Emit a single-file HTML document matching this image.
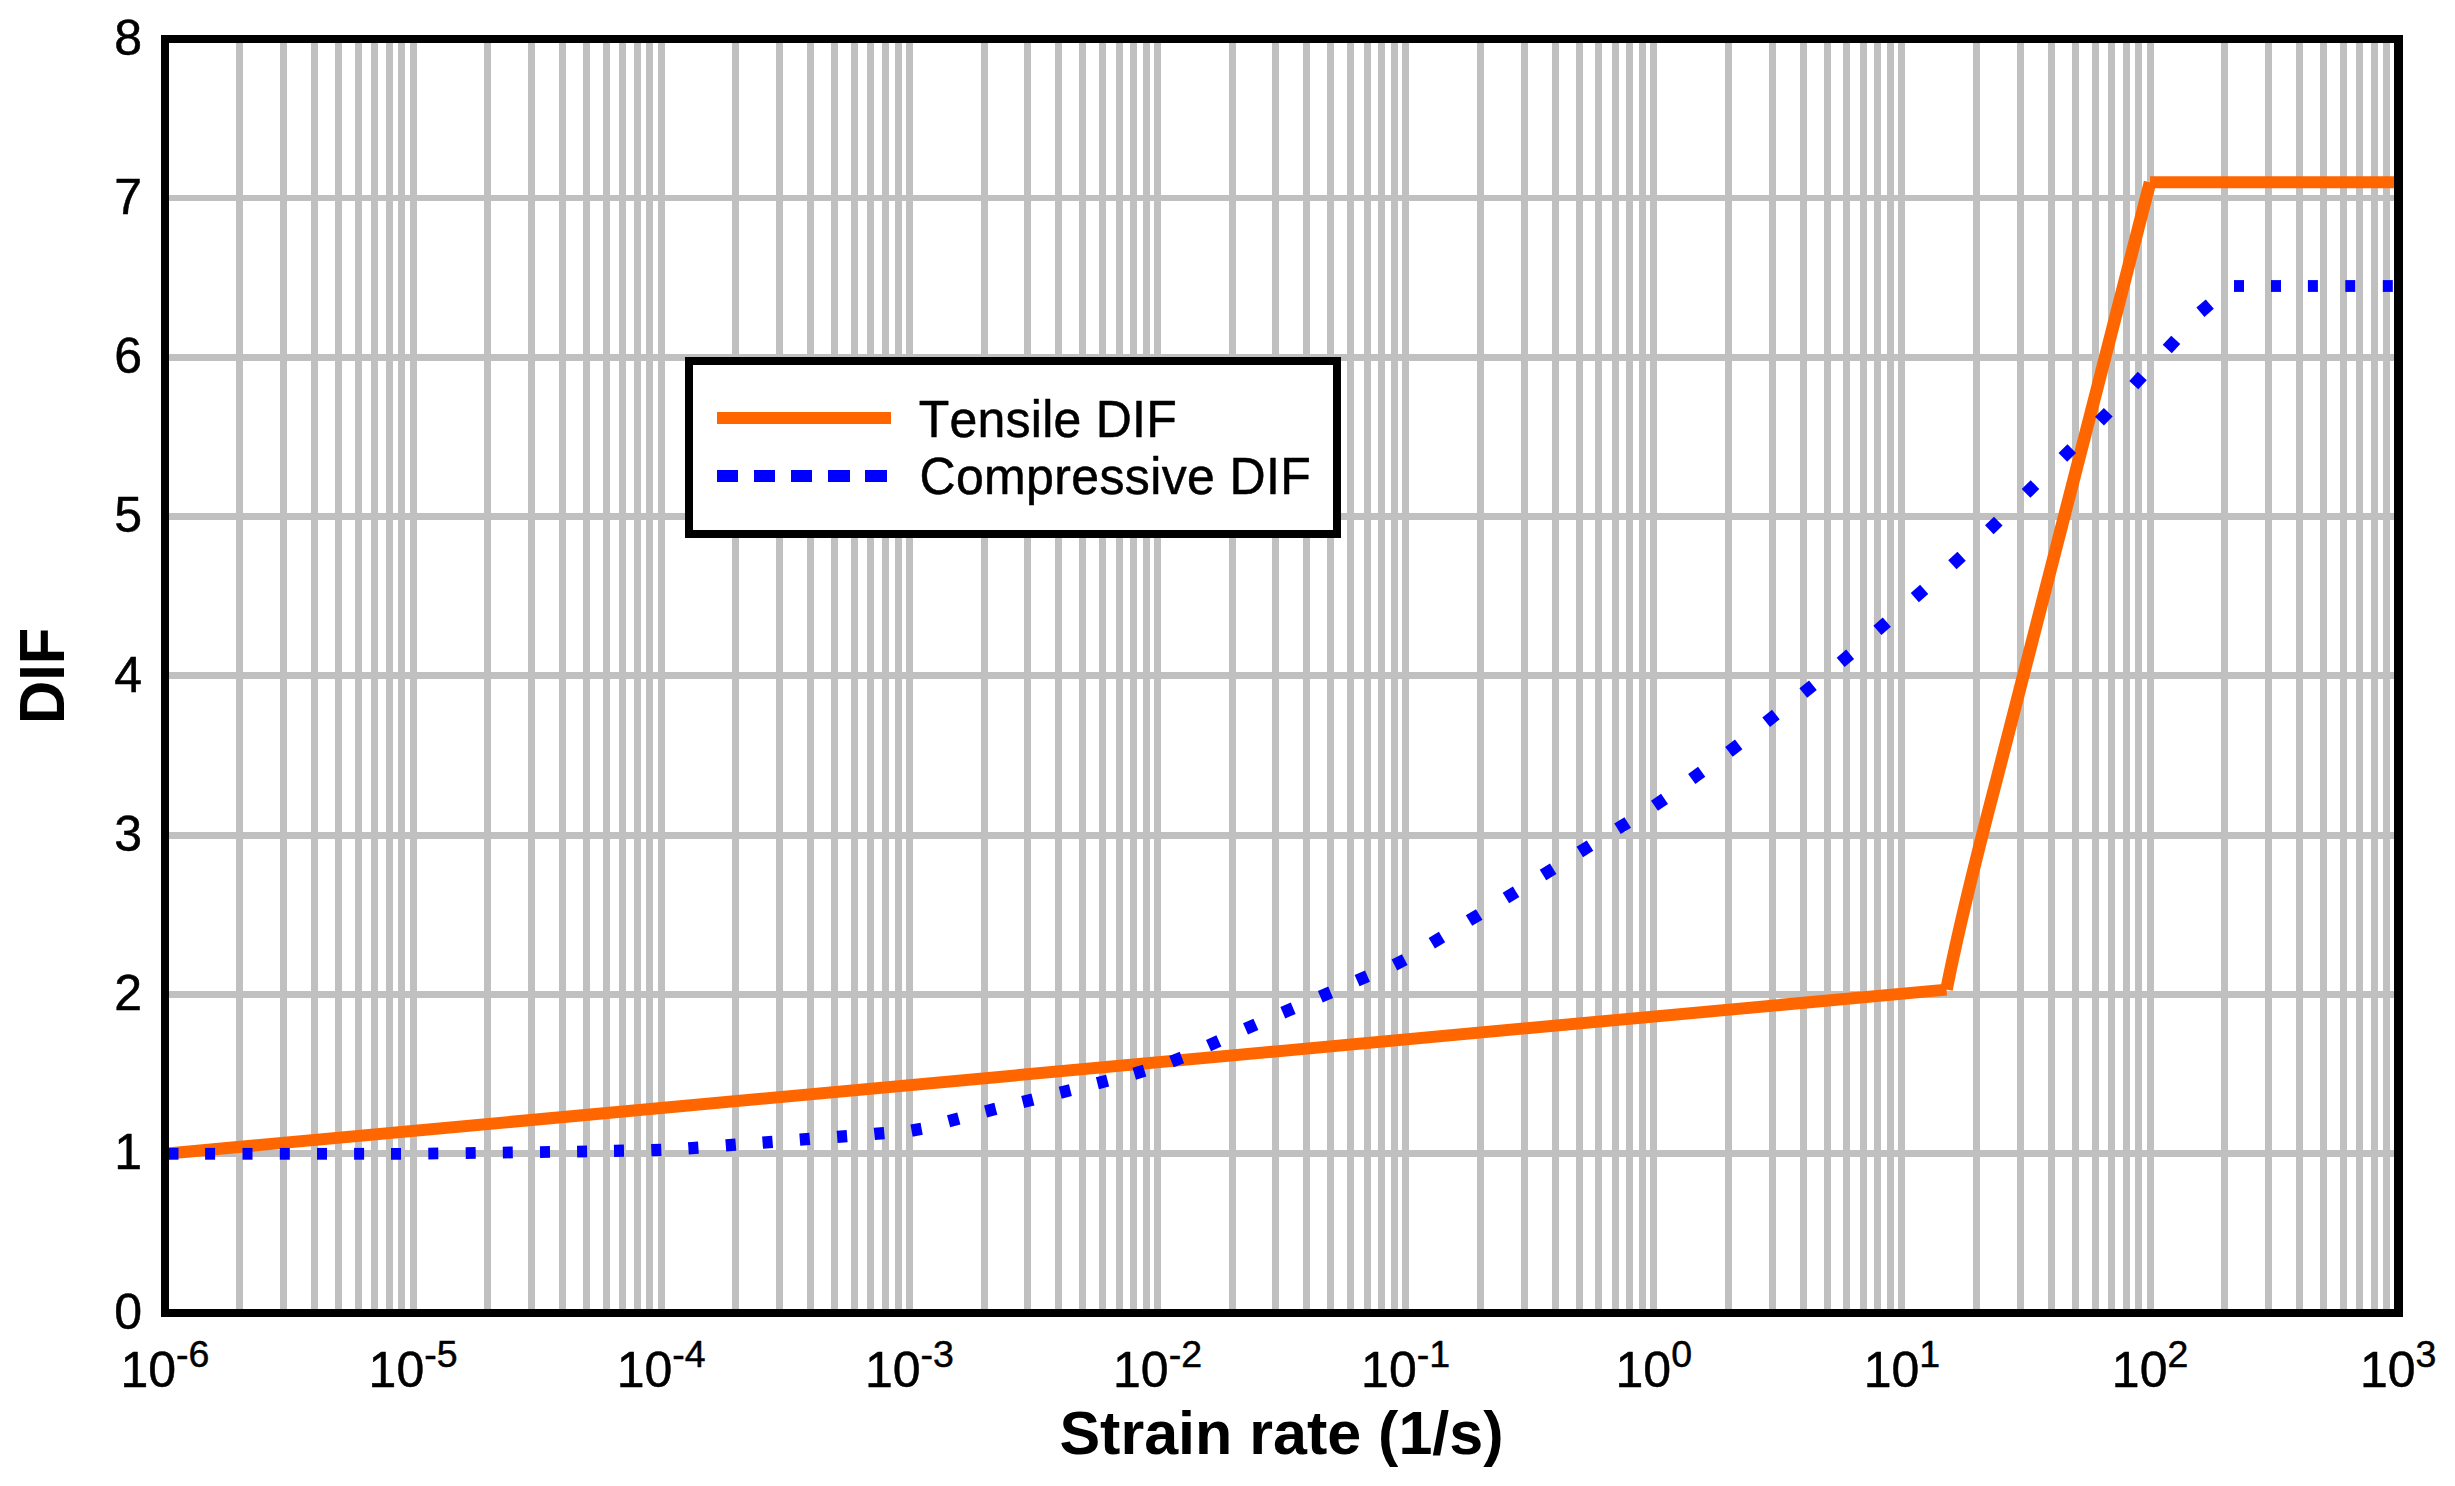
<!DOCTYPE html>
<html lang="en"><head><meta charset="utf-8"><title>DIF vs strain rate</title>
<style>html,body{margin:0;padding:0;background:#fff;}svg{display:block;}text{font-family:"Liberation Sans",Arial,Helvetica,sans-serif;fill:#000;}.r{stroke:#000;stroke-width:0.5px;stroke-linejoin:round;}</style></head><body>
<svg width="2455" height="1486" viewBox="0 0 2455 1486">
<rect x="0" y="0" width="2455" height="1486" fill="#fff"/>
<g fill="#c0c0c0" shape-rendering="crispEdges">
<rect x="236" y="43" width="7" height="1266"/>
<rect x="280" y="43" width="7" height="1266"/>
<rect x="311" y="43" width="7" height="1266"/>
<rect x="335" y="43" width="7" height="1266"/>
<rect x="355" y="43" width="7" height="1266"/>
<rect x="371" y="43" width="7" height="1266"/>
<rect x="386" y="43" width="7" height="1266"/>
<rect x="398" y="43" width="7" height="1266"/>
<rect x="410" y="43" width="7" height="1266"/>
<rect x="484" y="43" width="7" height="1266"/>
<rect x="528" y="43" width="7" height="1266"/>
<rect x="559" y="43" width="7" height="1266"/>
<rect x="583" y="43" width="7" height="1266"/>
<rect x="603" y="43" width="7" height="1266"/>
<rect x="619" y="43" width="7" height="1266"/>
<rect x="634" y="43" width="7" height="1266"/>
<rect x="646" y="43" width="7" height="1266"/>
<rect x="658" y="43" width="7" height="1266"/>
<rect x="732" y="43" width="7" height="1266"/>
<rect x="776" y="43" width="7" height="1266"/>
<rect x="807" y="43" width="7" height="1266"/>
<rect x="831" y="43" width="7" height="1266"/>
<rect x="851" y="43" width="7" height="1266"/>
<rect x="867" y="43" width="7" height="1266"/>
<rect x="882" y="43" width="7" height="1266"/>
<rect x="895" y="43" width="7" height="1266"/>
<rect x="906" y="43" width="7" height="1266"/>
<rect x="981" y="43" width="7" height="1266"/>
<rect x="1024" y="43" width="7" height="1266"/>
<rect x="1055" y="43" width="7" height="1266"/>
<rect x="1079" y="43" width="7" height="1266"/>
<rect x="1099" y="43" width="7" height="1266"/>
<rect x="1116" y="43" width="7" height="1266"/>
<rect x="1130" y="43" width="7" height="1266"/>
<rect x="1143" y="43" width="7" height="1266"/>
<rect x="1154" y="43" width="7" height="1266"/>
<rect x="1229" y="43" width="7" height="1266"/>
<rect x="1272" y="43" width="7" height="1266"/>
<rect x="1303" y="43" width="7" height="1266"/>
<rect x="1327" y="43" width="7" height="1266"/>
<rect x="1347" y="43" width="7" height="1266"/>
<rect x="1364" y="43" width="7" height="1266"/>
<rect x="1378" y="43" width="7" height="1266"/>
<rect x="1391" y="43" width="7" height="1266"/>
<rect x="1402" y="43" width="7" height="1266"/>
<rect x="1477" y="43" width="7" height="1266"/>
<rect x="1521" y="43" width="7" height="1266"/>
<rect x="1552" y="43" width="7" height="1266"/>
<rect x="1576" y="43" width="7" height="1266"/>
<rect x="1595" y="43" width="7" height="1266"/>
<rect x="1612" y="43" width="7" height="1266"/>
<rect x="1626" y="43" width="7" height="1266"/>
<rect x="1639" y="43" width="7" height="1266"/>
<rect x="1650" y="43" width="7" height="1266"/>
<rect x="1725" y="43" width="7" height="1266"/>
<rect x="1769" y="43" width="7" height="1266"/>
<rect x="1800" y="43" width="7" height="1266"/>
<rect x="1824" y="43" width="7" height="1266"/>
<rect x="1843" y="43" width="7" height="1266"/>
<rect x="1860" y="43" width="7" height="1266"/>
<rect x="1874" y="43" width="7" height="1266"/>
<rect x="1887" y="43" width="7" height="1266"/>
<rect x="1898" y="43" width="7" height="1266"/>
<rect x="1973" y="43" width="7" height="1266"/>
<rect x="2017" y="43" width="7" height="1266"/>
<rect x="2048" y="43" width="7" height="1266"/>
<rect x="2072" y="43" width="7" height="1266"/>
<rect x="2092" y="43" width="7" height="1266"/>
<rect x="2108" y="43" width="7" height="1266"/>
<rect x="2123" y="43" width="7" height="1266"/>
<rect x="2135" y="43" width="7" height="1266"/>
<rect x="2147" y="43" width="7" height="1266"/>
<rect x="2221" y="43" width="7" height="1266"/>
<rect x="2265" y="43" width="7" height="1266"/>
<rect x="2296" y="43" width="7" height="1266"/>
<rect x="2320" y="43" width="7" height="1266"/>
<rect x="2340" y="43" width="7" height="1266"/>
<rect x="2356" y="43" width="7" height="1266"/>
<rect x="2371" y="43" width="7" height="1266"/>
<rect x="2383" y="43" width="7" height="1266"/>
</g>
<g fill="#c0c0c0" shape-rendering="crispEdges">
<rect x="169" y="195" width="2225" height="6"/>
<rect x="169" y="354" width="2225" height="7"/>
<rect x="169" y="513" width="2225" height="7"/>
<rect x="169" y="672" width="2225" height="7"/>
<rect x="169" y="832" width="2225" height="7"/>
<rect x="169" y="991" width="2225" height="7"/>
<rect x="169" y="1150" width="2225" height="7"/>
</g>
<g stroke="#ff6600" stroke-width="12" fill="none" stroke-linecap="butt">
<line x1="165.0" y1="1153.75" x2="1946.5" y2="989.6"/>
<path stroke-width="12.6" stroke-linejoin="bevel" d="M1946.5,989.6 C1960.15,919.6 1978.16,850 1996.5,780 L2150.07,182.33"/>
<line x1="2150.07" y1="182.33" x2="2398.0" y2="182.33"/>
</g>
<g fill="#0000ff">
<rect x="-5.00" y="-5.90" width="10.00" height="11.80" transform="translate(173.5 1153.8) rotate(0.00)"/>
<rect x="-5.00" y="-5.90" width="10.00" height="11.80" transform="translate(210.1 1153.8) rotate(0.00)"/>
<rect x="-5.00" y="-5.90" width="10.00" height="11.80" transform="translate(247.5 1153.8) rotate(0.00)"/>
<rect x="-5.00" y="-5.90" width="10.00" height="11.80" transform="translate(284.8 1153.8) rotate(0.00)"/>
<rect x="-5.00" y="-5.90" width="10.00" height="11.80" transform="translate(322.0 1153.8) rotate(0.00)"/>
<rect x="-5.00" y="-5.90" width="10.00" height="11.80" transform="translate(359.1 1153.8) rotate(0.00)"/>
<rect x="-5.00" y="-5.90" width="10.00" height="11.80" transform="translate(396.0 1153.8) rotate(-0.23)"/>
<rect x="-5.00" y="-5.90" width="10.00" height="11.80" transform="translate(433.3 1153.5) rotate(-0.61)"/>
<rect x="-5.00" y="-5.90" width="10.00" height="11.80" transform="translate(470.7 1153.0) rotate(-0.77)"/>
<rect x="-5.00" y="-5.90" width="10.00" height="11.80" transform="translate(507.8 1152.5) rotate(-0.77)"/>
<rect x="-5.00" y="-5.90" width="10.00" height="11.80" transform="translate(545.0 1152.0) rotate(-0.77)"/>
<rect x="-5.00" y="-5.90" width="10.00" height="11.80" transform="translate(582.1 1151.5) rotate(-0.93)"/>
<rect x="-5.00" y="-6.15" width="10.00" height="12.30" transform="translate(619.0 1150.8) rotate(-1.16)"/>
<rect x="-5.01" y="-6.15" width="10.01" height="12.30" transform="translate(656.3 1150.0) rotate(-2.16)"/>
<rect x="-5.02" y="-6.15" width="10.04" height="12.30" transform="translate(693.4 1148.0) rotate(-3.84)"/>
<rect x="-5.03" y="-6.15" width="10.06" height="12.30" transform="translate(730.8 1145.0) rotate(-4.47)"/>
<rect x="-5.03" y="-6.15" width="10.06" height="12.30" transform="translate(767.6 1142.2) rotate(-4.48)"/>
<rect x="-5.03" y="-6.15" width="10.06" height="12.30" transform="translate(804.8 1139.2) rotate(-4.45)"/>
<rect x="-5.03" y="-6.15" width="10.06" height="12.30" transform="translate(842.1 1136.4) rotate(-4.38)"/>
<rect x="-5.04" y="-6.15" width="10.08" height="12.30" transform="translate(879.3 1133.5) rotate(-5.14)"/>
<rect x="-5.16" y="-6.15" width="10.31" height="12.30" transform="translate(916.6 1129.7) rotate(-10.36)"/>
<rect x="-5.31" y="-6.15" width="10.61" height="12.30" transform="translate(953.7 1119.9) rotate(-14.82)"/>
<rect x="-5.29" y="-6.15" width="10.59" height="12.30" transform="translate(990.7 1110.1) rotate(-14.53)"/>
<rect x="-5.28" y="-6.15" width="10.56" height="12.30" transform="translate(1027.8 1100.7) rotate(-14.07)"/>
<rect x="-5.28" y="-6.15" width="10.55" height="12.30" transform="translate(1065.3 1091.4) rotate(-14.05)"/>
<rect x="-5.29" y="-6.15" width="10.59" height="12.30" transform="translate(1102.5 1082.0) rotate(-14.53)"/>
<rect x="-5.38" y="-6.15" width="10.77" height="12.30" transform="translate(1139.4 1072.2) rotate(-16.80)"/>
<rect x="-5.57" y="-6.15" width="11.14" height="12.30" transform="translate(1176.7 1059.6) rotate(-21.25)"/>
<rect x="-5.69" y="-6.15" width="11.38" height="12.30" transform="translate(1213.7 1043.3) rotate(-24.03)"/>
<rect x="-5.68" y="-6.15" width="11.36" height="12.30" transform="translate(1250.7 1026.6) rotate(-23.82)"/>
<rect x="-5.66" y="-6.15" width="11.31" height="12.30" transform="translate(1288.0 1010.5) rotate(-23.23)"/>
<rect x="-5.66" y="-6.15" width="11.33" height="12.30" transform="translate(1325.5 994.5) rotate(-23.37)"/>
<rect x="-5.67" y="-6.15" width="11.34" height="12.30" transform="translate(1362.3 978.4) rotate(-23.49)"/>
<rect x="-5.83" y="-6.15" width="11.65" height="12.30" transform="translate(1399.6 962.3) rotate(-27.18)"/>
<rect x="-5.98" y="-6.15" width="11.95" height="12.30" transform="translate(1436.9 940.1) rotate(-31.02)"/>
<rect x="-5.99" y="-6.15" width="11.98" height="12.30" transform="translate(1474.1 917.5) rotate(-31.38)"/>
<rect x="-6.00" y="-6.15" width="11.99" height="12.30" transform="translate(1511.0 894.9) rotate(-31.64)"/>
<rect x="-6.01" y="-6.15" width="12.02" height="12.30" transform="translate(1548.1 871.9) rotate(-31.96)"/>
<rect x="-6.00" y="-6.15" width="12.01" height="12.30" transform="translate(1584.9 848.8) rotate(-31.86)"/>
<rect x="-6.01" y="-6.15" width="12.02" height="12.30" transform="translate(1622.6 825.6) rotate(-31.94)"/>
<rect x="-6.08" y="-6.15" width="12.16" height="12.30" transform="translate(1659.5 802.3) rotate(-34.17)"/>
<rect x="-6.13" y="-6.15" width="12.26" height="12.30" transform="translate(1696.7 775.3) rotate(-36.06)"/>
<rect x="-6.17" y="-6.15" width="12.33" height="12.30" transform="translate(1733.8 748.2) rotate(-37.45)"/>
<rect x="-6.19" y="-6.15" width="12.37" height="12.30" transform="translate(1771.0 718.4) rotate(-38.45)"/>
<rect x="-6.19" y="-6.15" width="12.39" height="12.30" transform="translate(1808.1 689.2) rotate(-38.93)"/>
<rect x="-6.22" y="-6.15" width="12.44" height="12.30" transform="translate(1845.4 658.3) rotate(-40.36)"/>
<rect x="-6.23" y="-6.15" width="12.46" height="12.30" transform="translate(1882.1 626.3) rotate(-41.21)"/>
<rect x="-6.23" y="-6.15" width="12.46" height="12.30" transform="translate(1919.5 593.4) rotate(-41.30)"/>
<rect x="-6.24" y="-6.15" width="12.48" height="12.30" transform="translate(1957.0 560.5) rotate(-42.47)"/>
<rect x="-6.25" y="-6.15" width="12.50" height="12.30" transform="translate(1993.8 525.4) rotate(-44.21)"/>
<rect x="-6.25" y="-6.15" width="12.50" height="12.30" transform="translate(2030.5 489.0) rotate(-44.61)"/>
<rect x="-6.25" y="-6.15" width="12.50" height="12.30" transform="translate(2067.3 452.9) rotate(-44.57)"/>
<rect x="-6.25" y="-6.15" width="12.50" height="12.30" transform="translate(2103.9 416.7) rotate(-45.64)"/>
<rect x="-6.24" y="-6.15" width="12.49" height="12.30" transform="translate(2138.0 380.6) rotate(-46.92)"/>
<rect x="-6.24" y="-6.15" width="12.49" height="12.30" transform="translate(2171.5 344.4) rotate(-47.18)"/>
<rect x="-6.22" y="-6.15" width="12.45" height="12.30" transform="translate(2205.1 308.2) rotate(-40.87)"/>
<rect x="-5.00" y="-5.90" width="10.00" height="11.80" transform="translate(2239.0 286.0) rotate(0.00)"/>
<rect x="-5.00" y="-5.90" width="10.00" height="11.80" transform="translate(2276.0 286.0) rotate(0.00)"/>
<rect x="-5.00" y="-5.90" width="10.00" height="11.80" transform="translate(2312.9 286.0) rotate(0.00)"/>
<rect x="-5.00" y="-5.90" width="10.00" height="11.80" transform="translate(2350.3 286.0) rotate(0.00)"/>
<rect x="-5.00" y="-5.90" width="10.00" height="11.80" transform="translate(2387.8 286.0) rotate(0.00)"/>
</g>
<path fill="#000" fill-rule="evenodd" shape-rendering="crispEdges" d="M161 35H2403V1317H161Z M169 43V1309H2394V43Z"/>
<rect x="685" y="357" width="656" height="181" fill="#fff" shape-rendering="crispEdges"/>
<path fill="#000" fill-rule="evenodd" shape-rendering="crispEdges" d="M685 357H1341V538H685Z M693 365V530H1333V365Z"/>
<line x1="716.9" y1="418" x2="891.2" y2="418" stroke="#ff6600" stroke-width="11.8" shape-rendering="crispEdges"/>
<g fill="#0000ff" shape-rendering="crispEdges">
<rect x="716.9" y="470" width="21.3" height="12"/>
<rect x="753.8" y="470" width="21.3" height="12"/>
<rect x="790.9" y="470" width="21.1" height="12"/>
<rect x="828.2" y="470" width="21.4" height="12"/>
<rect x="865.3" y="470" width="21.7" height="12"/>
</g>
<text class="r" transform="translate(918.7 437) scale(1 1.02)" font-size="50" style="font-kerning:none;letter-spacing:0.25px">Tensile DIF</text>
<text class="r" transform="translate(919.4 494) scale(1 1.02)" font-size="50" style="font-kerning:none;letter-spacing:0.37px">Compressive DIF</text>
<g class="r" font-size="50" text-anchor="end">
<text x="142" y="1328.5">0</text>
<text x="142" y="1169.2">1</text>
<text x="142" y="1010.0">2</text>
<text x="142" y="850.8">3</text>
<text x="142" y="691.5">4</text>
<text x="142" y="532.2">5</text>
<text x="142" y="373.0">6</text>
<text x="142" y="213.8">7</text>
<text x="142" y="54.5">8</text>
</g>
<g class="r" font-size="50" text-anchor="middle">
<text x="164.9" y="1387">10<tspan font-size="37.5" dy="-20">-6</tspan></text>
<text x="413.1" y="1387">10<tspan font-size="37.5" dy="-20">-5</tspan></text>
<text x="661.2" y="1387">10<tspan font-size="37.5" dy="-20">-4</tspan></text>
<text x="909.4" y="1387">10<tspan font-size="37.5" dy="-20">-3</tspan></text>
<text x="1157.5" y="1387">10<tspan font-size="37.5" dy="-20">-2</tspan></text>
<text x="1405.6" y="1387">10<tspan font-size="37.5" dy="-20">-1</tspan></text>
<text x="1653.8" y="1387">10<tspan font-size="37.5" dy="-20">0</tspan></text>
<text x="1901.9" y="1387">10<tspan font-size="37.5" dy="-20">1</tspan></text>
<text x="2150.1" y="1387">10<tspan font-size="37.5" dy="-20">2</tspan></text>
<text x="2398.2" y="1387">10<tspan font-size="37.5" dy="-20">3</tspan></text>
</g>
<text x="1281.5" y="1453.7" font-size="61" font-weight="bold" text-anchor="middle">Strain rate (1/s)</text>
<text transform="translate(64 675.9) rotate(-90) scale(0.98 1.048)" font-size="61" font-weight="bold" text-anchor="middle" style="text-rendering:geometricPrecision">DIF</text>
</svg></body></html>
